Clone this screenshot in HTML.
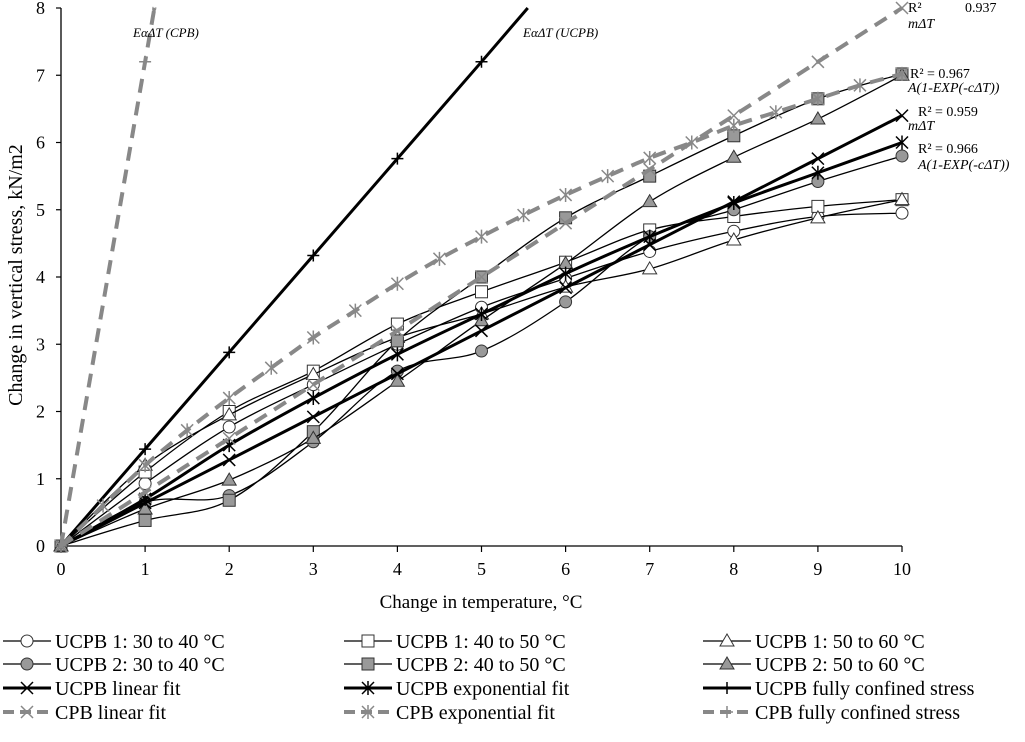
<!DOCTYPE html>
<html><head><meta charset="utf-8"><style>
html,body{margin:0;padding:0;background:#fff;}
svg{display:block;font-family:"Liberation Serif",serif;}
</style></head><body>
<svg id="chart" width="1025" height="742" viewBox="0 0 1025 742" xmlns="http://www.w3.org/2000/svg">
<g id="axes"></g>
<g id="series"></g>
<g id="annot"></g>
<g id="legend"></g>
</svg>
<script>
const temps = [0,1,2,3,4,5,6,7,8,9,10];
const xTicks = [0,1,2,3,4,5,6,7,8,9,10];
const yTicks = [0,1,2,3,4,5,6,7,8];
const ucpb1_30_40 = [0,0.93,1.77,2.4,3.0,3.55,3.98,4.38,4.68,4.9,4.95];
const ucpb1_40_50 = [0,1.1,2.0,2.6,3.3,3.78,4.22,4.7,4.9,5.05,5.15];
const ucpb1_50_60 = [0,1.2,1.95,2.55,3.1,3.45,3.85,4.12,4.55,4.88,5.15];
const ucpb2_30_40 = [0,0.65,0.75,1.55,2.6,2.9,3.63,4.6,5.0,5.42,5.8];
const ucpb2_40_50 = [0,0.38,0.68,1.7,3.05,4.0,4.88,5.5,6.1,6.65,7.02];
const ucpb2_50_60 = [0,0.55,0.98,1.6,2.45,3.35,4.2,5.12,5.78,6.35,7.0];
const ucpbLinear = [0,0.64,1.28,1.92,2.56,3.2,3.84,4.48,5.12,5.76,6.4];
const ucpbExp = [0,0.7,1.5,2.2,2.85,3.45,4.05,4.6,5.1,5.55,6.0];
const ucpbConfT = [0,1,2,3,4,5,5.55];
const ucpbConf = [0,1.44,2.88,4.32,5.76,7.2,8.0];
const cpbLinear = [0,0.8,1.6,2.4,3.2,4.0,4.8,5.6,6.4,7.2,8.0];
const cpbExpT = [0,0.5,1,1.5,2,2.5,3,3.5,4,4.5,5,5.5,6,6.5,7,7.5,8,8.5,9,9.5,10];
const cpbExp = [0,0.6,1.2,1.72,2.2,2.65,3.1,3.5,3.9,4.27,4.6,4.92,5.22,5.5,5.77,6.0,6.25,6.45,6.65,6.85,7.02];
const cpbConfT = [0,1,1.11];
const cpbConf = [0,7.2,8.0];

const X0=61,X1=902,Y0=546,Y1=8;
const sx=v=>X0+(X1-X0)*v/10;
const sy=v=>Y0-(Y0-Y1)*v/8;
const NS="http://www.w3.org/2000/svg";
function mk(tag,attrs,parent){const e=document.createElementNS(NS,tag);for(const k in attrs)e.setAttribute(k,attrs[k]);parent.appendChild(e);return e;}
const axes=document.getElementById('axes'),ser=document.getElementById('series'),ann=document.getElementById('annot'),leg=document.getElementById('legend');

let a=mk('line',{x1:X0,y1:Y1,x2:X0,y2:Y0,stroke:'#000','stroke-width':1.3},axes);


a=mk('line',{x1:X0,y1:Y0,x2:X1,y2:Y0,stroke:'#000','stroke-width':1.3},axes);


xTicks.forEach(t=>{
  mk('line',{x1:sx(t),y1:Y0,x2:sx(t),y2:Y0+6,stroke:'#000','stroke-width':1.2},axes);
  const tx=mk('text',{x:sx(t),y:Y0+29,'text-anchor':'middle','font-size':18},axes);
  tx.textContent=t;
  
  
});
yTicks.forEach(t=>{
  mk('line',{x1:X0-5,y1:sy(t),x2:X0,y2:sy(t),stroke:'#000','stroke-width':1.2},axes);
  const tx=mk('text',{x:X0-16,y:sy(t)+6,'text-anchor':'end','font-size':18},axes);
  tx.textContent=t;
  
  
});
let t=mk('text',{x:481,y:608,'text-anchor':'middle','font-size':19},axes);
t.textContent='Change in temperature, °C';


t=mk('text',{x:0,y:0,'text-anchor':'middle','font-size':20,transform:'translate(22,275) rotate(-90)'},axes);
t.textContent='Change in vertical stress, kN/m2';



function marker(g,type,x,y,fill){
  const s=6;
  if(type==='circle')mk('circle',{cx:x,cy:y,r:s,fill:fill,stroke:'#333','stroke-width':1},g);
  else if(type==='square')mk('rect',{x:x-s,y:y-s,width:2*s,height:2*s,fill:fill,stroke:'#333','stroke-width':1},g);
  else if(type==='triangle')mk('polygon',{points:`${x},${y-7} ${x-7},${y+5} ${x+7},${y+5}`,fill:fill,stroke:'#333','stroke-width':1},g);
  else if(type==='x'){mk('path',{d:`M${x-6} ${y-6}L${x+6} ${y+6}M${x-6} ${y+6}L${x+6} ${y-6}`,stroke:fill,'stroke-width':1.5},g);}
  else if(type==='star'){mk('path',{d:`M${x-6} ${y-6}L${x+6} ${y+6}M${x-6} ${y+6}L${x+6} ${y-6}M${x} ${y-7}L${x} ${y+7}`,stroke:fill,'stroke-width':1.5},g);}
  else if(type==='plus'){mk('path',{d:`M${x-6} ${y}L${x+6} ${y}M${x} ${y-6}L${x} ${y+6}`,stroke:fill,'stroke-width':1.5},g);}
}
function smooth(pts){
  let d=`M${pts[0][0]} ${pts[0][1]}`;
  for(let i=0;i<pts.length-1;i++){
    const p0=pts[i-1]||pts[i],p1=pts[i],p2=pts[i+1],p3=pts[i+2]||p2;
    const c1=[p1[0]+(p2[0]-p0[0])/6,p1[1]+(p2[1]-p0[1])/6],c2=[p2[0]-(p3[0]-p1[0])/6,p2[1]-(p3[1]-p1[1])/6];
    d+=`C${c1[0]} ${c1[1]} ${c2[0]} ${c2[1]} ${p2[0]} ${p2[1]}`;
  }
  return d;
}
const seriesDefs=[
 {name:'UCPB 1: 30 to 40 °C',id:'ucpb1-30-40',xs:temps,ys:ucpb1_30_40,m:'circle',mf:'#fff',c:'#000',w:1.3,dash:null},
 {name:'UCPB 1: 40 to 50 °C',id:'ucpb1-40-50',xs:temps,ys:ucpb1_40_50,m:'square',mf:'#fff',c:'#000',w:1.3,dash:null},
 {name:'UCPB 1: 50 to 60 °C',id:'ucpb1-50-60',xs:temps,ys:ucpb1_50_60,m:'triangle',mf:'#fff',c:'#000',w:1.3,dash:null},
 {name:'UCPB 2: 30 to 40 °C',id:'ucpb2-30-40',xs:temps,ys:ucpb2_30_40,m:'circle',mf:'#999',c:'#000',w:1.3,dash:null},
 {name:'UCPB 2: 40 to 50 °C',id:'ucpb2-40-50',xs:temps,ys:ucpb2_40_50,m:'square',mf:'#999',c:'#000',w:1.3,dash:null},
 {name:'UCPB 2: 50 to 60 °C',id:'ucpb2-50-60',xs:temps,ys:ucpb2_50_60,m:'triangle',mf:'#999',c:'#000',w:1.3,dash:null},
 {name:'UCPB linear fit',id:'ucpb-linear-fit',xs:temps,ys:ucpbLinear,m:'x',mf:'#000',c:'#000',w:3,dash:null},
 {name:'UCPB exponential fit',id:'ucpb-exponential-fit',xs:temps,ys:ucpbExp,m:'star',mf:'#000',c:'#000',w:3,dash:null},
 {name:'UCPB fully confined stress',id:'ucpb-fully-confined',xs:ucpbConfT,ys:ucpbConf,m:'plus',mf:'#000',c:'#000',w:3,dash:null},
 {name:'CPB linear fit',id:'cpb-linear-fit',xs:temps,ys:cpbLinear,m:'x',mf:'#888',c:'#888',w:4,dash:'14 9'},
 {name:'CPB exponential fit',id:'cpb-exponential-fit',xs:cpbExpT,ys:cpbExp,m:'star',mf:'#888',c:'#888',w:4,dash:'14 9'},
 {name:'CPB fully confined stress',id:'cpb-fully-confined',xs:cpbConfT,ys:cpbConf,m:'plus',mf:'#888',c:'#888',w:4,dash:'14 9'},
];
seriesDefs.forEach(s=>{
  const g=mk('g',{},ser);
  
  
  const pts=s.xs.map((x,i)=>[sx(x),sy(s.ys[i])]);
  const p=mk('path',{d:smooth(pts),fill:'none',stroke:s.c,'stroke-width':s.w},g);
  if(s.dash)p.setAttribute('stroke-dasharray',s.dash);
  pts.forEach((pt,i)=>{ if(s.ys[i]<=8 && !(s.m==='plus'&&s.ys[i]>=8)) marker(g,s.m,pt[0],pt[1],s.mf); });
});
const notes=[
 [133,37,'EαΔT (CPB)',true,13],[523,37,'EαΔT (UCPB)',true,13],
 [908,12,'R² ',false,14],[965,12,'0.937',false,14],[908,28,'mΔT',true,14],
 [910,78,'R² = 0.967',false,14],[908,92,'A(1-EXP(-cΔT))',true,14],
 [918,116,'R² = 0.959',false,14],[908,130,'mΔT',true,14],
 [918,153,'R² = 0.966',false,14],[918,169,'A(1-EXP(-cΔT))',true,14],
];
notes.forEach(n=>{
  const e=mk('text',{x:n[0],y:n[1],'font-size':n[4]},ann);
  if(n[3])e.setAttribute('font-style','italic');
  e.textContent=n[2];
  
  
});
const rows=[641,664,688,712],cols=[3,344,703];
seriesDefs.forEach((s,i)=>{
  const x=cols[i%3],y=rows[Math.floor(i/3)];
  const g=mk('g',{},leg);
  
  
  const l=mk('line',{x1:x,y1:y,x2:x+48,y2:y,stroke:s.c,'stroke-width':s.w},g);
  if(s.dash)l.setAttribute('stroke-dasharray','11 6');
  marker(g,s.m,x+24,y,s.mf);
  const tx=mk('text',{x:x+52,y:y+7,'font-size':20},g);
  tx.textContent=s.name;
});
</script>
</body></html>
